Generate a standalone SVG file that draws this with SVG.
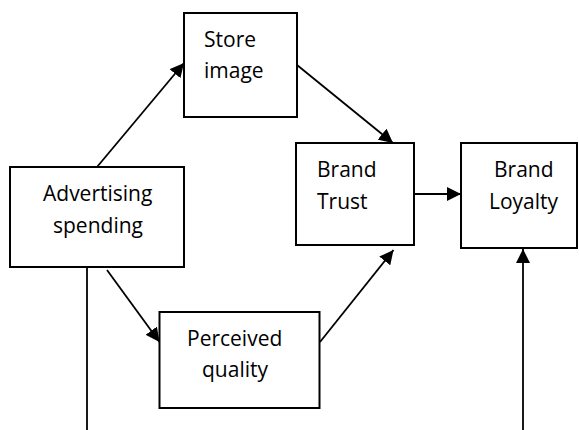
<svg xmlns="http://www.w3.org/2000/svg" width="579" height="430" viewBox="0 0 579 430">
<style>
.box{fill:#fff;stroke:#000;stroke-width:2}
.lbl{font-family:"Open Sans","Liberation Sans",sans-serif;font-size:21px;fill:#000}
.ln{stroke:#000;stroke-width:1.8;fill:none}
.arr{marker-end:url(#ah)}
</style>
<defs>
<marker id="ah" markerUnits="userSpaceOnUse" viewBox="0 0 14 14" markerWidth="14" markerHeight="14" refX="14" refY="7" orient="auto">
<path d="M0,0 L14,7 L0,14 z" fill="#000"/>
</marker>
</defs>
<rect x="0" y="0" width="579" height="430" fill="#fff"/>
<g id="connectors">
<line class="ln arr" x1="97" y1="167" x2="184" y2="63"/>
<line class="ln arr" x1="297" y1="65" x2="393" y2="143"/>
<line class="ln arr" x1="414" y1="194" x2="461" y2="194"/>
<line class="ln arr" x1="107" y1="270" x2="159.5" y2="342"/>
<line class="ln arr" x1="320" y1="342" x2="393.5" y2="250"/>
<line class="ln" x1="87" y1="267" x2="87" y2="430"/>
<line class="ln arr" x1="523" y1="430" x2="523" y2="249"/>
</g>
<g id="store-image">
<rect class="box" x="184" y="13" width="113" height="104"/>
<text class="lbl" x="204" y="47">Store</text>
<text class="lbl" x="204" y="78">image</text>
</g>
<g id="advertising-spending">
<rect class="box" x="10" y="167" width="174" height="100"/>
<text class="lbl" x="43" y="201">Advertising</text>
<text class="lbl" x="53" y="233">spending</text>
</g>
<g id="brand-trust">
<rect class="box" x="296" y="143" width="118" height="102"/>
<text class="lbl" x="317" y="177">Brand</text>
<text class="lbl" x="317" y="209">Trust</text>
</g>
<g id="brand-loyalty">
<rect class="box" x="461" y="143" width="116" height="105"/>
<text class="lbl" x="494" y="177">Brand</text>
<text class="lbl" x="489" y="209">Loyalty</text>
</g>
<g id="perceived-quality">
<rect class="box" x="159.5" y="312" width="160" height="96"/>
<text class="lbl" x="187" y="346">Perceived</text>
<text class="lbl" x="202" y="377">quality</text>
</g>
</svg>
